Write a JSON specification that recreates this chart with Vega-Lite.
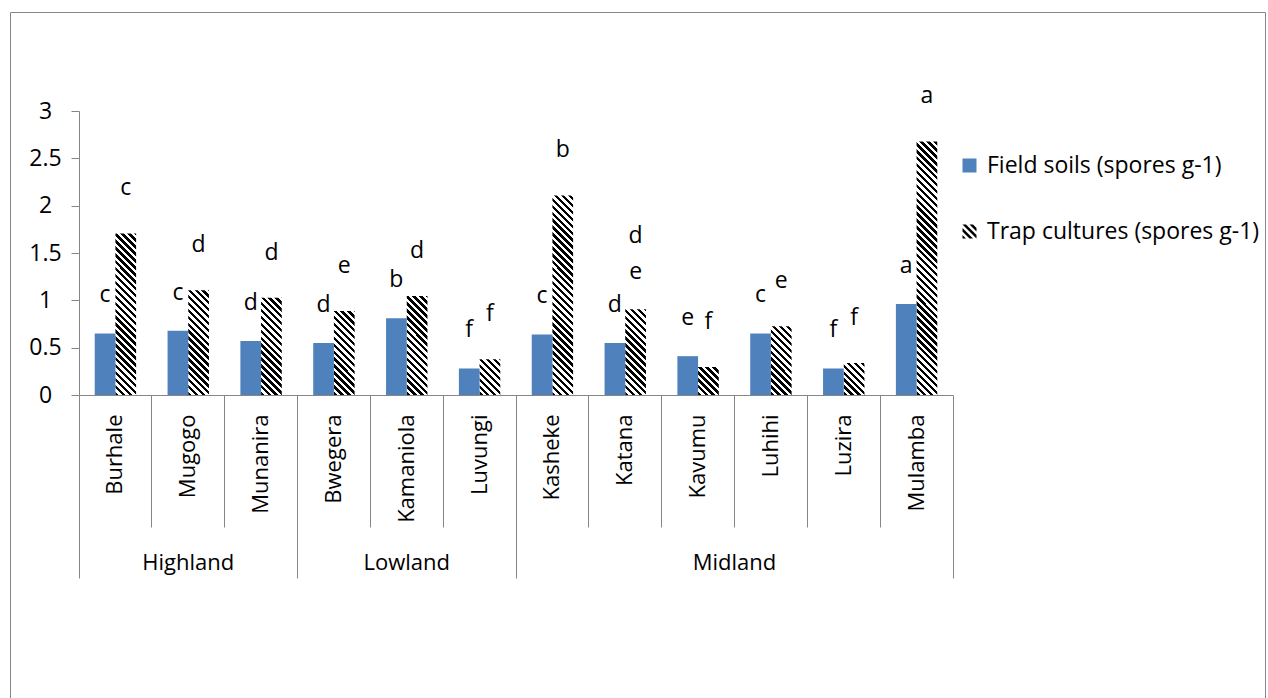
{
  "$schema": "https://vega.github.io/schema/vega-lite/v6.json",
  "width": 1255,
  "height": 690,
  "autosize": {"type": "none"},
  "padding": {"left": 10, "top": 12, "right": 3, "bottom": 0},
  "background": "white",
  "config": {
    "view": {"stroke": "#868686", "strokeWidth": 1},
    "font": "Open Sans",
    "axis": {
      "labelFont": "Open Sans",
      "labelFontSize": 22,
      "labelColor": "#000000",
      "domainColor": "#868686",
      "tickColor": "#868686",
      "domainWidth": 1,
      "tickWidth": 1,
      "grid": false,
      "title": null
    }
  },
  "datasets": {
    "spores": [
      {"group": "Highland", "site": "Burhale", "series": "Field soils (spores g-1)", "value": 0.65, "letter": "c"},
      {"group": "Highland", "site": "Burhale", "series": "Trap cultures (spores g-1)", "value": 1.72, "letter": "c"},
      {"group": "Highland", "site": "Mugogo", "series": "Field soils (spores g-1)", "value": 0.68, "letter": "c"},
      {"group": "Highland", "site": "Mugogo", "series": "Trap cultures (spores g-1)", "value": 1.12, "letter": "d"},
      {"group": "Highland", "site": "Munanira", "series": "Field soils (spores g-1)", "value": 0.57, "letter": "d"},
      {"group": "Highland", "site": "Munanira", "series": "Trap cultures (spores g-1)", "value": 1.04, "letter": "d"},
      {"group": "Lowland", "site": "Bwegera", "series": "Field soils (spores g-1)", "value": 0.55, "letter": "d"},
      {"group": "Lowland", "site": "Bwegera", "series": "Trap cultures (spores g-1)", "value": 0.9, "letter": "e"},
      {"group": "Lowland", "site": "Kamaniola", "series": "Field soils (spores g-1)", "value": 0.81, "letter": "b"},
      {"group": "Lowland", "site": "Kamaniola", "series": "Trap cultures (spores g-1)", "value": 1.06, "letter": "d"},
      {"group": "Lowland", "site": "Luvungi", "series": "Field soils (spores g-1)", "value": 0.28, "letter": "f"},
      {"group": "Lowland", "site": "Luvungi", "series": "Trap cultures (spores g-1)", "value": 0.39, "letter": "f"},
      {"group": "Midland", "site": "Kasheke", "series": "Field soils (spores g-1)", "value": 0.64, "letter": "c"},
      {"group": "Midland", "site": "Kasheke", "series": "Trap cultures (spores g-1)", "value": 2.12, "letter": "b"},
      {"group": "Midland", "site": "Katana", "series": "Field soils (spores g-1)", "value": 0.55, "letter": "d"},
      {"group": "Midland", "site": "Katana", "series": "Trap cultures (spores g-1)", "value": 0.92, "letter": "d e"},
      {"group": "Midland", "site": "Kavumu", "series": "Field soils (spores g-1)", "value": 0.41, "letter": "e"},
      {"group": "Midland", "site": "Kavumu", "series": "Trap cultures (spores g-1)", "value": 0.31, "letter": "f"},
      {"group": "Midland", "site": "Luhihi", "series": "Field soils (spores g-1)", "value": 0.65, "letter": "c"},
      {"group": "Midland", "site": "Luhihi", "series": "Trap cultures (spores g-1)", "value": 0.74, "letter": "e"},
      {"group": "Midland", "site": "Luzira", "series": "Field soils (spores g-1)", "value": 0.28, "letter": "f"},
      {"group": "Midland", "site": "Luzira", "series": "Trap cultures (spores g-1)", "value": 0.35, "letter": "f"},
      {"group": "Midland", "site": "Mulamba", "series": "Field soils (spores g-1)", "value": 0.96, "letter": "a"},
      {"group": "Midland", "site": "Mulamba", "series": "Trap cultures (spores g-1)", "value": 2.69, "letter": "a"}
    ]
  },
  "data": {"name": "spores"},
  "resolve": {"axis": {"x": "independent", "y": "independent"}},
  "layer": [
    {
      "transform": [{"filter": "datum.series === 'Trap cultures (spores g-1)'"}],
      "mark": {
        "type": "bar",
        "fill": {
          "gradient": "linear",
          "x1": 0, "y1": 1, "x2": 0.0778, "y2": -0.0673,
          "stops": [
            {"offset": 0, "color": "#000"}, {"offset": 0.01136, "color": "#000"}, {"offset": 0.01136, "color": "#fff"}, {"offset": 0.02273, "color": "#fff"},
            {"offset": 0.02273, "color": "#000"}, {"offset": 0.03409, "color": "#000"}, {"offset": 0.03409, "color": "#fff"}, {"offset": 0.04545, "color": "#fff"},
            {"offset": 0.04545, "color": "#000"}, {"offset": 0.05682, "color": "#000"}, {"offset": 0.05682, "color": "#fff"}, {"offset": 0.06818, "color": "#fff"},
            {"offset": 0.06818, "color": "#000"}, {"offset": 0.07955, "color": "#000"}, {"offset": 0.07955, "color": "#fff"}, {"offset": 0.09091, "color": "#fff"},
            {"offset": 0.09091, "color": "#000"}, {"offset": 0.10227, "color": "#000"}, {"offset": 0.10227, "color": "#fff"}, {"offset": 0.11364, "color": "#fff"},
            {"offset": 0.11364, "color": "#000"}, {"offset": 0.125, "color": "#000"}, {"offset": 0.125, "color": "#fff"}, {"offset": 0.13636, "color": "#fff"},
            {"offset": 0.13636, "color": "#000"}, {"offset": 0.14773, "color": "#000"}, {"offset": 0.14773, "color": "#fff"}, {"offset": 0.15909, "color": "#fff"},
            {"offset": 0.15909, "color": "#000"}, {"offset": 0.17045, "color": "#000"}, {"offset": 0.17045, "color": "#fff"}, {"offset": 0.18182, "color": "#fff"},
            {"offset": 0.18182, "color": "#000"}, {"offset": 0.19318, "color": "#000"}, {"offset": 0.19318, "color": "#fff"}, {"offset": 0.20455, "color": "#fff"},
            {"offset": 0.20455, "color": "#000"}, {"offset": 0.21591, "color": "#000"}, {"offset": 0.21591, "color": "#fff"}, {"offset": 0.22727, "color": "#fff"},
            {"offset": 0.22727, "color": "#000"}, {"offset": 0.23864, "color": "#000"}, {"offset": 0.23864, "color": "#fff"}, {"offset": 0.25, "color": "#fff"},
            {"offset": 0.25, "color": "#000"}, {"offset": 0.26136, "color": "#000"}, {"offset": 0.26136, "color": "#fff"}, {"offset": 0.27273, "color": "#fff"},
            {"offset": 0.27273, "color": "#000"}, {"offset": 0.28409, "color": "#000"}, {"offset": 0.28409, "color": "#fff"}, {"offset": 0.29545, "color": "#fff"},
            {"offset": 0.29545, "color": "#000"}, {"offset": 0.30682, "color": "#000"}, {"offset": 0.30682, "color": "#fff"}, {"offset": 0.31818, "color": "#fff"},
            {"offset": 0.31818, "color": "#000"}, {"offset": 0.32955, "color": "#000"}, {"offset": 0.32955, "color": "#fff"}, {"offset": 0.34091, "color": "#fff"},
            {"offset": 0.34091, "color": "#000"}, {"offset": 0.35227, "color": "#000"}, {"offset": 0.35227, "color": "#fff"}, {"offset": 0.36364, "color": "#fff"},
            {"offset": 0.36364, "color": "#000"}, {"offset": 0.375, "color": "#000"}, {"offset": 0.375, "color": "#fff"}, {"offset": 0.38636, "color": "#fff"},
            {"offset": 0.38636, "color": "#000"}, {"offset": 0.39773, "color": "#000"}, {"offset": 0.39773, "color": "#fff"}, {"offset": 0.40909, "color": "#fff"},
            {"offset": 0.40909, "color": "#000"}, {"offset": 0.42045, "color": "#000"}, {"offset": 0.42045, "color": "#fff"}, {"offset": 0.43182, "color": "#fff"},
            {"offset": 0.43182, "color": "#000"}, {"offset": 0.44318, "color": "#000"}, {"offset": 0.44318, "color": "#fff"}, {"offset": 0.45455, "color": "#fff"},
            {"offset": 0.45455, "color": "#000"}, {"offset": 0.46591, "color": "#000"}, {"offset": 0.46591, "color": "#fff"}, {"offset": 0.47727, "color": "#fff"},
            {"offset": 0.47727, "color": "#000"}, {"offset": 0.48864, "color": "#000"}, {"offset": 0.48864, "color": "#fff"}, {"offset": 0.5, "color": "#fff"},
            {"offset": 0.5, "color": "#000"}, {"offset": 0.51136, "color": "#000"}, {"offset": 0.51136, "color": "#fff"}, {"offset": 0.52273, "color": "#fff"},
            {"offset": 0.52273, "color": "#000"}, {"offset": 0.53409, "color": "#000"}, {"offset": 0.53409, "color": "#fff"}, {"offset": 0.54545, "color": "#fff"},
            {"offset": 0.54545, "color": "#000"}, {"offset": 0.55682, "color": "#000"}, {"offset": 0.55682, "color": "#fff"}, {"offset": 0.56818, "color": "#fff"},
            {"offset": 0.56818, "color": "#000"}, {"offset": 0.57955, "color": "#000"}, {"offset": 0.57955, "color": "#fff"}, {"offset": 0.59091, "color": "#fff"},
            {"offset": 0.59091, "color": "#000"}, {"offset": 0.60227, "color": "#000"}, {"offset": 0.60227, "color": "#fff"}, {"offset": 0.61364, "color": "#fff"},
            {"offset": 0.61364, "color": "#000"}, {"offset": 0.625, "color": "#000"}, {"offset": 0.625, "color": "#fff"}, {"offset": 0.63636, "color": "#fff"},
            {"offset": 0.63636, "color": "#000"}, {"offset": 0.64773, "color": "#000"}, {"offset": 0.64773, "color": "#fff"}, {"offset": 0.65909, "color": "#fff"},
            {"offset": 0.65909, "color": "#000"}, {"offset": 0.67045, "color": "#000"}, {"offset": 0.67045, "color": "#fff"}, {"offset": 0.68182, "color": "#fff"},
            {"offset": 0.68182, "color": "#000"}, {"offset": 0.69318, "color": "#000"}, {"offset": 0.69318, "color": "#fff"}, {"offset": 0.70455, "color": "#fff"},
            {"offset": 0.70455, "color": "#000"}, {"offset": 0.71591, "color": "#000"}, {"offset": 0.71591, "color": "#fff"}, {"offset": 0.72727, "color": "#fff"},
            {"offset": 0.72727, "color": "#000"}, {"offset": 0.73864, "color": "#000"}, {"offset": 0.73864, "color": "#fff"}, {"offset": 0.75, "color": "#fff"},
            {"offset": 0.75, "color": "#000"}, {"offset": 0.76136, "color": "#000"}, {"offset": 0.76136, "color": "#fff"}, {"offset": 0.77273, "color": "#fff"},
            {"offset": 0.77273, "color": "#000"}, {"offset": 0.78409, "color": "#000"}, {"offset": 0.78409, "color": "#fff"}, {"offset": 0.79545, "color": "#fff"},
            {"offset": 0.79545, "color": "#000"}, {"offset": 0.80682, "color": "#000"}, {"offset": 0.80682, "color": "#fff"}, {"offset": 0.81818, "color": "#fff"},
            {"offset": 0.81818, "color": "#000"}, {"offset": 0.82955, "color": "#000"}, {"offset": 0.82955, "color": "#fff"}, {"offset": 0.84091, "color": "#fff"},
            {"offset": 0.84091, "color": "#000"}, {"offset": 0.85227, "color": "#000"}, {"offset": 0.85227, "color": "#fff"}, {"offset": 0.86364, "color": "#fff"},
            {"offset": 0.86364, "color": "#000"}, {"offset": 0.875, "color": "#000"}, {"offset": 0.875, "color": "#fff"}, {"offset": 0.88636, "color": "#fff"},
            {"offset": 0.88636, "color": "#000"}, {"offset": 0.89773, "color": "#000"}, {"offset": 0.89773, "color": "#fff"}, {"offset": 0.90909, "color": "#fff"},
            {"offset": 0.90909, "color": "#000"}, {"offset": 0.92045, "color": "#000"}, {"offset": 0.92045, "color": "#fff"}, {"offset": 0.93182, "color": "#fff"},
            {"offset": 0.93182, "color": "#000"}, {"offset": 0.94318, "color": "#000"}, {"offset": 0.94318, "color": "#fff"}, {"offset": 0.95455, "color": "#fff"},
            {"offset": 0.95455, "color": "#000"}, {"offset": 0.96591, "color": "#000"}, {"offset": 0.96591, "color": "#fff"}, {"offset": 0.97727, "color": "#fff"},
            {"offset": 0.97727, "color": "#000"}, {"offset": 0.98864, "color": "#000"}, {"offset": 0.98864, "color": "#fff"}, {"offset": 1, "color": "#fff"}
          ]
        }
      },
      "encoding": {
        "x": {
          "field": "site", "type": "nominal", "sort": null,
          "scale": {"domain": ["Burhale", "Mugogo", "Munanira", "Bwegera", "Kamaniola", "Luvungi", "Kasheke", "Katana", "Kavumu", "Luhihi", "Luzira", "Mulamba"], "range": [69, 943], "paddingInner": 0, "paddingOuter": 0},
          "axis": {
            "orient": "bottom", "offset": -307, "bandPosition": 0, "tickSize": 132,
            "labelAngle": 270, "labelAlign": "right", "labelBaseline": "middle",
            "labelPadding": -113, "labelOverlap": false, "labelLimit": 300
          }
        },
        "xOffset": {"field": "series", "type": "nominal", "scale": {"domain": ["Field soils (spores g-1)", "Trap cultures (spores g-1)"], "paddingInner": 0, "paddingOuter": 0.76}},
        "y": {"datum": 0, "type": "quantitative", "scale": {"domain": [0, 3], "range": [383, 99], "nice": false, "zero": true}, "axis": null},
        "y2": {"datum": 3}
      }
    },
    {
      "transform": [{"filter": "datum.series === 'Trap cultures (spores g-1)'"}],
      "mark": {"type": "bar", "fill": "white", "stroke": "white", "strokeWidth": 2.5},
      "encoding": {
        "x": {
          "field": "site", "type": "nominal", "sort": null,
          "scale": {"domain": ["Burhale", "Mugogo", "Munanira", "Bwegera", "Kamaniola", "Luvungi", "Kasheke", "Katana", "Kavumu", "Luhihi", "Luzira", "Mulamba"], "range": [69, 943], "paddingInner": 0, "paddingOuter": 0},
          "axis": {
            "orient": "bottom", "offset": -307, "values": ["Mulamba"],
            "bandPosition": 1, "tickSize": 183, "domain": false, "labels": false
          }
        },
        "xOffset": {"field": "series", "type": "nominal", "scale": {"domain": ["Field soils (spores g-1)", "Trap cultures (spores g-1)"], "paddingInner": 0, "paddingOuter": 0.76}},
        "y": {"field": "value", "type": "quantitative", "scale": {"domain": [0, 3], "range": [383, 99], "nice": false, "zero": true}, "axis": null},
        "y2": {"datum": 3}
      }
    },
    {
      "transform": [{"filter": "datum.series === 'Field soils (spores g-1)'"}],
      "mark": {"type": "bar"},
      "encoding": {
        "x": {
          "field": "site", "type": "nominal", "sort": null,
          "scale": {"domain": ["Burhale", "Mugogo", "Munanira", "Bwegera", "Kamaniola", "Luvungi", "Kasheke", "Katana", "Kavumu", "Luhihi", "Luzira", "Mulamba"], "range": [69, 943], "paddingInner": 0, "paddingOuter": 0},
          "axis": {
            "orient": "bottom", "offset": -307,
            "values": ["Burhale", "Bwegera"],
            "bandPosition": 0, "tickSize": 183, "domain": false,
            "labelExpr": "datum.value === 'Burhale' ? 'Highland' : 'Lowland'",
            "labelAngle": 0, "labelAlign": "center", "labelBaseline": "middle",
            "labelPadding": -16, "labelOverlap": false, "labelOffset": 72.8
          }
        },
        "xOffset": {"field": "series", "type": "nominal", "scale": {"domain": ["Field soils (spores g-1)", "Trap cultures (spores g-1)"], "paddingInner": 0, "paddingOuter": 0.76}},
        "y": {
          "field": "value", "type": "quantitative",
          "scale": {"domain": [0, 3], "range": [383, 99], "nice": false, "zero": true},
          "axis": {
            "orient": "left", "offset": -69, "values": [0, 0.5, 1, 1.5, 2, 2.5, 3], "format": "~g",
            "tickSize": 8, "labelPadding": 26, "labelAlign": "center", "labelFontSize": 23,
            "labelFlush": false, "labelBaseline": "middle"
          }
        },
        "color": {
          "field": "series", "type": "nominal",
          "scale": {"domain": ["Field soils (spores g-1)"], "range": ["#4F81BD"]},
          "legend": {
            "title": null, "orient": "none", "legendX": 948, "legendY": 142,
            "symbolType": "square", "symbolSize": 196, "symbolStrokeWidth": 0,
            "labelFont": "Open Sans", "labelFontSize": 23, "labelColor": "#000000",
            "labelOffset": 6, "labelLimit": 400, "padding": 0
          }
        }
      }
    },
    {
      "transform": [{"filter": "datum.series === 'Field soils (spores g-1)'"}],
      "mark": {"type": "text", "font": "Open Sans", "fontSize": 23, "color": "#000000", "baseline": "bottom", "dy": -26},
      "encoding": {
        "x": {
          "field": "site", "type": "nominal", "sort": null,
          "scale": {"domain": ["Burhale", "Mugogo", "Munanira", "Bwegera", "Kamaniola", "Luvungi", "Kasheke", "Katana", "Kavumu", "Luhihi", "Luzira", "Mulamba"], "range": [69, 943], "paddingInner": 0, "paddingOuter": 0},
          "axis": {
            "orient": "bottom", "offset": -307, "values": ["Kasheke"],
            "bandPosition": 0, "tickSize": 183, "domain": false,
            "labelExpr": "'Midland'",
            "labelAngle": 0, "labelAlign": "center", "labelBaseline": "middle",
            "labelPadding": -16, "labelOverlap": false, "labelOffset": 182.1
          }
        },
        "xOffset": {"field": "series", "type": "nominal", "scale": {"domain": ["Field soils (spores g-1)", "Trap cultures (spores g-1)"], "paddingInner": 0, "paddingOuter": 0.76}},
        "y": {"field": "value", "type": "quantitative", "scale": {"domain": [0, 3], "range": [383, 99], "nice": false, "zero": true}, "axis": null},
        "text": {"field": "letter", "type": "nominal"}
      }
    },
    {
      "transform": [{"filter": "datum.series === 'Trap cultures (spores g-1)'"}],
      "mark": {
        "type": "text", "font": "Open Sans", "fontSize": 23, "baseline": "bottom",
        "lineBreak": " ", "lineHeight": 36,
        "dy": {"expr": "length(datum.letter) > 1 ? -60 : -32"}
      },
      "encoding": {
        "x": {
          "field": "site", "type": "nominal", "sort": null,
          "scale": {"domain": ["Burhale", "Mugogo", "Munanira", "Bwegera", "Kamaniola", "Luvungi", "Kasheke", "Katana", "Kavumu", "Luhihi", "Luzira", "Mulamba"], "range": [69, 943], "paddingInner": 0, "paddingOuter": 0},
          "axis": null
        },
        "xOffset": {"field": "series", "type": "nominal", "scale": {"domain": ["Field soils (spores g-1)", "Trap cultures (spores g-1)"], "paddingInner": 0, "paddingOuter": 0.76}},
        "y": {"field": "value", "type": "quantitative", "scale": {"domain": [0, 3], "range": [383, 99], "nice": false, "zero": true}, "axis": null},
        "text": {"field": "letter", "type": "nominal"},
        "fill": {
          "field": "series", "type": "nominal",
          "scale": {"domain": ["Trap cultures (spores g-1)"], "range": ["#000000"]},
          "legend": {
            "title": null, "orient": "none", "legendX": 948, "legendY": 208,
            "symbolType": "M-1,1L-1,0.5L-0.5,1Z M-1,0L0,1L0.5,1L-1,-0.5Z M-1,-1L1,1L1,0.5L-0.5,-1Z M0,-1L1,0L1,-0.5L0.5,-1Z",
            "symbolSize": 196, "symbolStrokeWidth": 0, "symbolOpacity": 1,
            "labelFont": "Open Sans", "labelFontSize": 23, "labelColor": "#000000",
            "labelOffset": 6, "labelLimit": 400, "padding": 0
          }
        }
      }
    }
  ]
}
